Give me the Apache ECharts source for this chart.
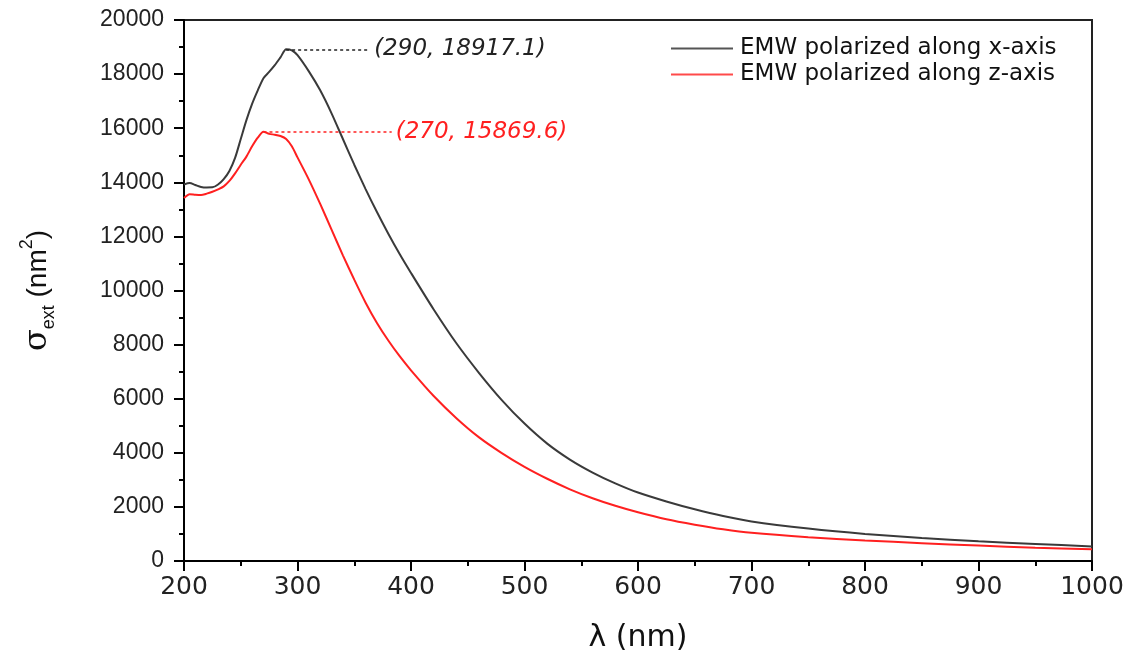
<!DOCTYPE html>
<html>
<head>
<meta charset="utf-8">
<script src="https://cdn.jsdelivr.net/npm/echarts@6/dist/echarts.min.js"></script>
<style>html,body{margin:0;padding:0;background:#fff;}#c{width:1134px;height:659px;}</style>
</head>
<body>
<div id="c"></div>
<script>
// wavelength (nm)
const wavelengths = [200,205,210,215,220,225,230,235,240,245,250,255,260,265,270,275,280,285,290,295,300,310,320,330,340,350,360,370,380,390,400,420,440,460,480,500,520,540,560,580,600,625,650,675,700,750,800,850,900,950,1000];
// extinction cross-section, EMW polarized along x-axis (nm^2)
const sigmaX = [13920,13970,13900,13830,13810,13815,13920,14120,14420,14900,15600,16300,16900,17400,17850,18080,18330,18620,18917.1,18880,18700,18100,17400,16550,15600,14650,13750,12900,12100,11350,10650,9300,8050,6950,5950,5080,4340,3750,3270,2870,2530,2200,1910,1660,1460,1200,1000,850,730,630,540];
// extinction cross-section, EMW polarized along z-axis (nm^2)
const sigmaZ = [13420,13560,13540,13530,13580,13650,13740,13850,14050,14330,14650,14950,15330,15650,15869.6,15790,15760,15710,15600,15330,14920,14100,13200,12250,11300,10400,9550,8800,8150,7570,7050,6100,5280,4570,3990,3480,3040,2650,2320,2040,1800,1540,1340,1170,1040,880,760,660,570,490,430];
// peaks
const peakX = [290, 18917.1];
const peakZ = [270, 15869.6];
const seriesNames = ['EMW polarized along x-axis', 'EMW polarized along z-axis'];
const yTicks = [0,2000,4000,6000,8000,10000,12000,14000,16000,18000,20000];
const xTicks = [200,300,400,500,600,700,800,900,1000];

const chart = echarts.init(document.getElementById('c'));
const pairs = (ys) => wavelengths.map((x, i) => [x, ys[i]]);
const peakLine = (pk, endX, color) => ({
  silent: true,
  symbol: ['none', 'none'],
  lineStyle: { type: [3, 3], color: color, width: 1.5 },
  label: {
    show: true, position: 'end', distance: 4,
    formatter: '(' + pk[0] + ', ' + pk[1] + ')',
    fontFamily: 'DejaVu Sans', fontStyle: 'italic', fontSize: 23, color: color
  },
  data: [[{ coord: [pk[0], pk[1]] }, { coord: [endX, pk[1]] }]]
});

chart.setOption({
  animation: false,
  backgroundColor: '#fff',
  grid: { left: 184, right: 42, top: 20, bottom: 98, show: true, borderColor: '#222', borderWidth: 2 },
  legend: {
    orient: 'vertical', left: 666, top: 32, itemWidth: 62, itemHeight: 2, itemGap: 3, icon: 'rect',
    textStyle: { fontFamily: 'DejaVu Sans', fontSize: 23, color: '#111', padding: [0, 0, 0, 2] },
    data: seriesNames
  },
  xAxis: {
    type: 'value', min: xTicks[0], max: xTicks[xTicks.length - 1], interval: 100,
    name: 'λ (nm)', nameLocation: 'middle', nameGap: 62,
    nameTextStyle: { fontFamily: 'DejaVu Sans', fontSize: 30, color: '#111' },
    axisLine: { lineStyle: { color: '#000', width: 2 } },
    axisTick: { length: 10, lineStyle: { color: '#000', width: 2 } },
    minorTick: { show: true, splitNumber: 2, length: 5, lineStyle: { color: '#000', width: 2 } },
    axisLabel: { margin: 14, fontFamily: 'DejaVu Sans', fontSize: 25, color: '#222', formatter: v => String(v) },
    splitLine: { show: false }
  },
  yAxis: {
    type: 'value', min: yTicks[0], max: yTicks[yTicks.length - 1], interval: 2000,
    name: '{s|σ}{sub|ext}{p| (nm}{sup|2}{p|)}', nameLocation: 'middle', nameGap: 126,
    nameTextStyle: {
      rich: {
        s: { fontFamily: 'DejaVu Serif', fontSize: 32, color: '#111', lineHeight: 40, verticalAlign: 'middle' },
        sub: { fontFamily: 'Liberation Sans', fontSize: 18, color: '#111', verticalAlign: 'bottom', lineHeight: 40 },
        p: { fontFamily: 'Liberation Sans', fontSize: 28, color: '#111', lineHeight: 40, verticalAlign: 'middle' },
        sup: { fontFamily: 'Liberation Sans', fontSize: 18, color: '#111', verticalAlign: 'top', lineHeight: 40 }
      }
    },
    axisLine: { show: true, lineStyle: { color: '#000', width: 2 } },
    axisTick: { show: true, length: 10, lineStyle: { color: '#000', width: 2 } },
    minorTick: { show: true, splitNumber: 2, length: 5, lineStyle: { color: '#000', width: 2 } },
    axisLabel: { margin: 20, fontFamily: 'Liberation Sans', fontSize: 23, color: '#222', formatter: v => String(v) },
    splitLine: { show: false }
  },
  series: [
    {
      name: seriesNames[0], type: 'line', data: pairs(sigmaX), symbol: 'none', smooth: 0.25,
      lineStyle: { color: '#3a3a3a', width: 2 }, itemStyle: { color: '#555' },
      markLine: peakLine(peakX, 364, '#222')
    },
    {
      name: seriesNames[1], type: 'line', data: pairs(sigmaZ), symbol: 'none', smooth: 0.25,
      lineStyle: { color: '#ff2020', width: 2 }, itemStyle: { color: '#ff4a4a' },
      markLine: peakLine(peakZ, 383, '#ff2020')
    }
  ]
});
</script>
</body>
</html>
